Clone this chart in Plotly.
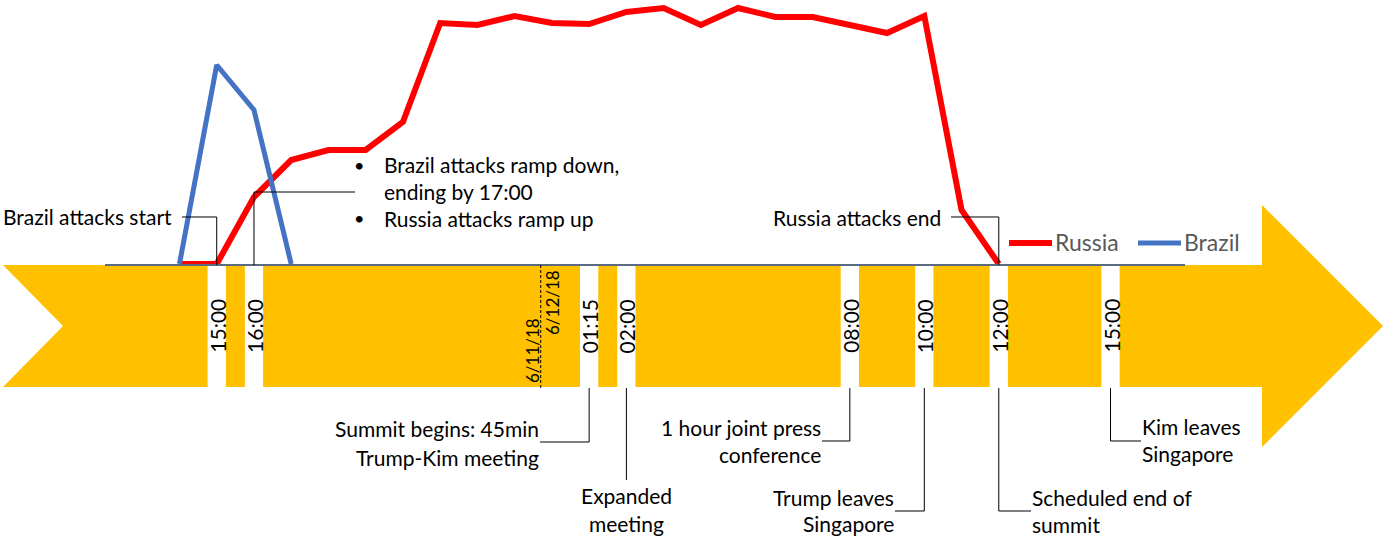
import plotly.graph_objects as go

# ---------------- data ----------------
hours = list(range(30))  # hours since 6/11/18 12:00
russia = [None, None, 0, 0, 67, 104, 114, 114, 142, 241, 239, 248, 241, 240,
          252, 256, 239, 256, 247, 247, 239, 231, 248, 54, 0,
          None, None, None, None, None]
brazil = [None, None, 0, 199, 154, 0, None, None, None, None, None, None, None, None,
          None, None, None, None, None, None, None, None, None, None, None,
          None, None, None, None, None]
series_names = ["Russia", "Brazil"]
series_colors = ["#FF0000", "#4472C4"]

event_hours = [3, 4, 13, 14, 20, 22, 24, 27]
event_labels = ["15:00", "16:00", "01:15", "02:00", "08:00", "10:00", "12:00", "15:00"]
date_split_hour = 11.7
date_labels = ["6/11/18", "6/12/18"]

# ---------------- layout helpers ----------------
W, H = 1384, 536
X0PX, X1PX = 105, 1185
NH = 29
FONT = "Lato"
FS = 21


def px(x):
    return x / W


def py(y):
    return 1 - y / H


def hx(p):
    return (p - X0PX) / (X1PX - X0PX) * NH


fig = go.Figure()
fig.add_trace(go.Scatter(x=hours, y=russia, mode="lines", name=series_names[0],
                         line=dict(color=series_colors[0], width=6), connectgaps=False))
fig.add_trace(go.Scatter(x=hours, y=brazil, mode="lines", name=series_names[1],
                         line=dict(color=series_colors[1], width=5), connectgaps=False))

shapes = []
# arrow
pts = [(3, 265), (1262, 265), (1262, 205), (1383, 326), (1262, 447), (1262, 387), (3, 387), (63, 326)]
path = "M " + " L ".join(f"{px(a):.5f},{py(b):.5f}" for a, b in pts) + " Z"
shapes.append(dict(type="path", xref="paper", yref="paper", path=path,
                   fillcolor="#FFC000", line=dict(width=0), layer="below"))
# stripes
for h in event_hours:
    shapes.append(dict(type="rect", xref="x", yref="paper", x0=h - 0.245, x1=h + 0.245,
                       y0=py(389), y1=py(265), fillcolor="white", line=dict(width=0), layer="below"))
# date divider
shapes.append(dict(type="line", xref="x", yref="paper", x0=date_split_hour, x1=date_split_hour,
                   y0=py(265), y1=py(388), line=dict(color="black", width=1, dash="3px,2px")))


def conn(points):
    # points: list of (hour-x, pixel-y)
    p = "M " + " L ".join(f"{a:.4f},{py(b):.5f}" for a, b in points)
    shapes.append(dict(type="path", xref="x", yref="paper", path=p,
                       line=dict(color="black", width=1)))


conn([(hx(182), 217), (event_hours[0], 217), (event_hours[0], 265)])
conn([(hx(355), 192), (event_hours[1], 192), (event_hours[1], 265)])
conn([(hx(951), 217), (event_hours[6], 217), (event_hours[6], 265)])
conn([(event_hours[2], 388), (event_hours[2], 442), (hx(540), 442)])
conn([(event_hours[3], 388), (event_hours[3], 480)])
conn([(event_hours[4], 388), (event_hours[4], 441), (hx(822), 441)])
conn([(event_hours[5], 388), (event_hours[5], 511), (hx(895), 511)])
conn([(event_hours[6], 388), (event_hours[6], 511), (hx(1031), 511)])
conn([(event_hours[7], 388), (event_hours[7], 441), (hx(1141), 441)])

ann = []
for h, lab in zip(event_hours, event_labels):
    ann.append(dict(x=h, xref="x", y=py(326), yref="paper", text=lab, textangle=-90,
                    showarrow=False, xanchor="center", yanchor="middle",
                    font=dict(family=FONT, size=FS, color="black")))
ann.append(dict(x=px(532), y=py(351), xref="paper", yref="paper", text=date_labels[0], textangle=-90,
                showarrow=False, xanchor="center", yanchor="middle",
                font=dict(family=FONT, size=17, color="black")))
ann.append(dict(x=px(552), y=py(303), xref="paper", yref="paper", text=date_labels[1], textangle=-90,
                showarrow=False, xanchor="center", yanchor="middle",
                font=dict(family=FONT, size=17, color="black")))


def txt(t, x, y, anchor, size=FS, color="black"):
    ann.append(dict(x=px(x), y=py(y), xref="paper", yref="paper", text=t, showarrow=False,
                    xanchor=anchor, yanchor="middle", borderpad=0,
                    font=dict(family=FONT, size=size, color=color)))


txt("Brazil attacks start", 173, 216, "right")
txt("•", 359, 165, "center", 18)
txt("•", 359, 218, "center", 18)
txt("Brazil attacks ramp down,", 383, 165, "left")
txt("ending by 17:00", 383, 191, "left")
txt("Russia attacks ramp up", 383, 218, "left")
txt("Russia attacks end", 942, 217, "right")
txt("Summit begins: 45min", 540, 428, "right")
txt("Trump-Kim meeting", 540, 457, "right")
txt("Expanded", 626, 495, "center")
txt("meeting", 626, 523, "center")
txt("1 hour joint press", 822, 427, "right")
txt("conference", 822, 454, "right")
txt("Trump leaves", 895, 497, "right")
txt("Singapore", 895, 523, "right")
txt("Scheduled end of", 1031, 497, "left")
txt("summit", 1031, 524, "left")
txt("Kim leaves", 1141, 426, "left")
txt("Singapore", 1141, 453, "left")

# legend (drawn manually to match sample length/spacing)
leg_x = [1009, 1138]
for lx, name, col, lw in zip(leg_x, series_names, series_colors, [6, 5]):
    shapes.append(dict(type="line", xref="paper", yref="paper", x0=px(lx), x1=px(lx + 43),
                       y0=py(243), y1=py(243), line=dict(color=col, width=lw)))
    txt(name, lx + 45, 242, "left", 23, "#595959")

fig.update_layout(
    width=W, height=H, autosize=False,
    margin=dict(l=0, r=0, t=0, b=0),
    paper_bgcolor="white", plot_bgcolor="rgba(0,0,0,0)",
    shapes=shapes, annotations=ann,
    showlegend=False,
    xaxis=dict(domain=[X0PX / W, X1PX / W], range=[0, NH], showgrid=False, zeroline=False,
               showticklabels=False, ticks="", showline=True, linecolor="#5B6B82", linewidth=2,
               layer="below traces", fixedrange=True),
    yaxis=dict(domain=[(H - 264) / H, 1], range=[0, 264], visible=False, showgrid=False,
               zeroline=False, fixedrange=True),
    font=dict(family=FONT),
)

fig.write_html("out.html", config={"displayModeBar": False},
               post_script="document.body.style.margin='0px';")
